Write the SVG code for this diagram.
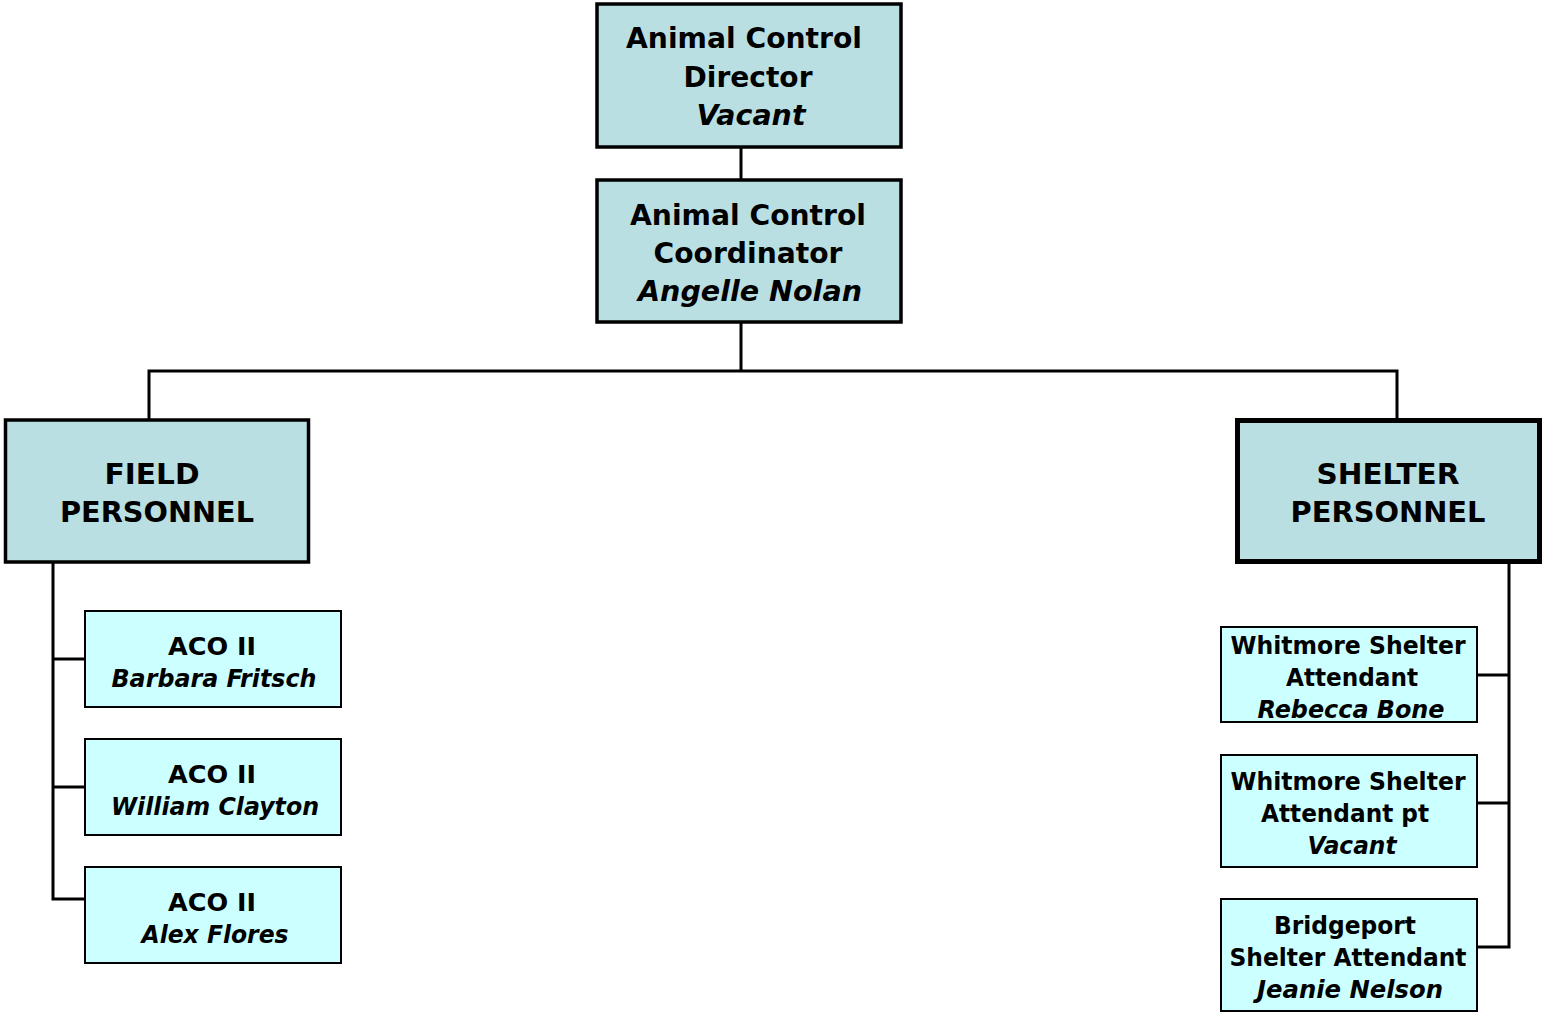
<svg xmlns="http://www.w3.org/2000/svg" width="1543" height="1013" viewBox="0 0 1543 1013">
  <style>
    .big { fill: #b9dfe3; stroke: #000; stroke-width: 3.5; }
    .small { fill: #ccffff; stroke: #000; stroke-width: 2; }
    text { font-family: "DejaVu Sans", Verdana, sans-serif; font-weight: bold; fill: #000; text-anchor: middle; }
    .t30 { font-size: 29px; }
    .t24 { font-size: 24px; }
    .it { font-style: italic; }
    .wire { fill: none; stroke: #000; stroke-width: 3; }
  </style>
  <rect width="1543" height="1013" fill="#fff"/>

  <g id="connectors">
    <line class="wire" x1="741" y1="147" x2="741" y2="179"/>
    <line class="wire" x1="741" y1="323" x2="741" y2="371"/>
    <polyline class="wire" points="149,419 149,371 1397,371 1397,419"/>
    <polyline class="wire" points="53,563 53,899 85,899"/>
    <line class="wire" x1="53" y1="659" x2="85" y2="659"/>
    <line class="wire" x1="53" y1="787" x2="85" y2="787"/>
    <polyline class="wire" points="1509,564 1509,947 1477,947"/>
    <line class="wire" x1="1477" y1="675" x2="1509" y2="675"/>
    <line class="wire" x1="1477" y1="803" x2="1509" y2="803"/>
  </g>

  <g id="director">
    <rect class="big" x="597" y="4" width="304" height="143"/>
    <text class="t30" x="744" y="48" textLength="236" lengthAdjust="spacingAndGlyphs">Animal Control</text>
    <text class="t30" x="748" y="87" textLength="129" lengthAdjust="spacingAndGlyphs">Director</text>
    <text class="t30 it" x="751" y="125" textLength="109" lengthAdjust="spacingAndGlyphs">Vacant</text>
  </g>

  <g id="coordinator">
    <rect class="big" x="597" y="180" width="304" height="142"/>
    <text class="t30" x="748" y="225" textLength="236" lengthAdjust="spacingAndGlyphs">Animal Control</text>
    <text class="t30" x="748" y="263" textLength="189" lengthAdjust="spacingAndGlyphs">Coordinator</text>
    <text class="t30 it" x="750" y="301" textLength="224" lengthAdjust="spacingAndGlyphs">Angelle Nolan</text>
  </g>

  <g id="field-personnel">
    <rect class="big" x="5.5" y="420" width="303" height="142"/>
    <text class="t30" x="152" y="484" textLength="95" lengthAdjust="spacingAndGlyphs">FIELD</text>
    <text class="t30" x="157" y="522" textLength="194" lengthAdjust="spacingAndGlyphs">PERSONNEL</text>
  </g>

  <g id="shelter-personnel">
    <rect class="big" x="1237.5" y="420.5" width="302" height="141" style="stroke-width:5"/>
    <text class="t30" x="1388" y="484" textLength="143" lengthAdjust="spacingAndGlyphs">SHELTER</text>
    <text class="t30" x="1388" y="522" textLength="195" lengthAdjust="spacingAndGlyphs">PERSONNEL</text>
  </g>

  <g id="aco-fritsch">
    <rect class="small" x="85" y="611" width="256" height="96"/>
    <text class="t24" x="212" y="655" textLength="88" lengthAdjust="spacingAndGlyphs">ACO II</text>
    <text class="t24 it" x="214" y="687" textLength="205" lengthAdjust="spacingAndGlyphs">Barbara Fritsch</text>
  </g>

  <g id="aco-clayton">
    <rect class="small" x="85" y="739" width="256" height="96"/>
    <text class="t24" x="212" y="783" textLength="88" lengthAdjust="spacingAndGlyphs">ACO II</text>
    <text class="t24 it" x="215" y="815" textLength="208" lengthAdjust="spacingAndGlyphs">William Clayton</text>
  </g>

  <g id="aco-flores">
    <rect class="small" x="85" y="867" width="256" height="96"/>
    <text class="t24" x="212" y="911" textLength="88" lengthAdjust="spacingAndGlyphs">ACO II</text>
    <text class="t24 it" x="215" y="943" textLength="147" lengthAdjust="spacingAndGlyphs">Alex Flores</text>
  </g>

  <g id="whitmore-attendant">
    <rect class="small" x="1221" y="627" width="256" height="95"/>
    <text class="t24" x="1348" y="654" textLength="235" lengthAdjust="spacingAndGlyphs">Whitmore Shelter</text>
    <text class="t24" x="1352" y="686" textLength="132" lengthAdjust="spacingAndGlyphs">Attendant</text>
    <text class="t24 it" x="1351" y="718" textLength="187" lengthAdjust="spacingAndGlyphs">Rebecca Bone</text>
  </g>

  <g id="whitmore-attendant-pt">
    <rect class="small" x="1221" y="755" width="256" height="112"/>
    <text class="t24" x="1348" y="790" textLength="235" lengthAdjust="spacingAndGlyphs">Whitmore Shelter</text>
    <text class="t24" x="1345" y="822" textLength="168" lengthAdjust="spacingAndGlyphs">Attendant pt</text>
    <text class="t24 it" x="1352" y="854" textLength="89" lengthAdjust="spacingAndGlyphs">Vacant</text>
  </g>

  <g id="bridgeport-attendant">
    <rect class="small" x="1221" y="899" width="256" height="112"/>
    <text class="t24" x="1345" y="934" textLength="142" lengthAdjust="spacingAndGlyphs">Bridgeport</text>
    <text class="t24" x="1348" y="966" textLength="237" lengthAdjust="spacingAndGlyphs">Shelter Attendant</text>
    <text class="t24 it" x="1350" y="998" textLength="186" lengthAdjust="spacingAndGlyphs">Jeanie Nelson</text>
  </g>
</svg>
